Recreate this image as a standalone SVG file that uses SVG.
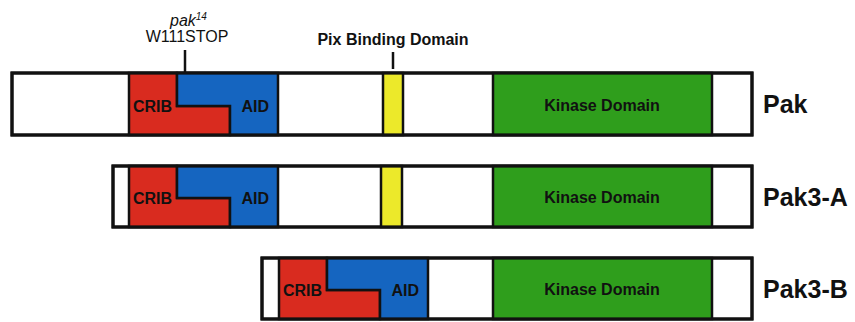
<svg xmlns="http://www.w3.org/2000/svg" width="855" height="322" viewBox="0 0 855 322">
<style>
.bar{fill:#fff;stroke:#111;stroke-width:3}
.seg{stroke:#111;stroke-width:2.5}
.red{fill:#d92b1f}
.blue{fill:#1565c0}
.yel{fill:#ece92a}
.grn{fill:#2f9e1c}
.ln{fill:none;stroke:#111;stroke-width:2.5}
.dom{font-family:"Liberation Sans",Arial,sans-serif;font-weight:bold;font-size:16px;fill:#111}
.name{font-family:"Liberation Sans",Arial,sans-serif;font-weight:bold;font-size:25px;fill:#111}
.lab{font-family:"Liberation Sans",Arial,sans-serif;font-size:16px;fill:#111}
</style>
<rect width="855" height="322" fill="#fff"/>
<g id="annotations">
<text class="lab" x="170" y="26" font-style="italic">pak<tspan font-size="10" dy="-6">14</tspan></text>
<text class="lab" x="187" y="42" text-anchor="middle">W111STOP</text>
<text class="dom" x="393" y="45" text-anchor="middle">Pix Binding Domain</text>
</g>
<g id="connectors">
<line class="ln" x1="185" y1="50" x2="185" y2="73"/>
<line class="ln" x1="393" y1="52" x2="393" y2="69"/>
</g>
<g id="pak">
<rect class="bar" x="12" y="73" width="740" height="62"/>
<polygon class="red seg" points="129,73 177,73 177,106 230,106 230,135 129,135"/>
<polygon class="blue seg" points="177,73 278,73 278,135 230,135 230,106 177,106"/>
<rect class="yel seg" x="383" y="73" width="20" height="62"/>
<rect class="grn seg" x="493" y="73" width="219" height="62"/>
<rect x="12" y="73" width="740" height="62" fill="none" stroke="#111" stroke-width="3"/>
<text class="dom" x="133" y="112">CRIB</text>
<text class="dom" x="269" y="112" text-anchor="end">AID</text>
<text class="dom" x="602" y="111" text-anchor="middle">Kinase Domain</text>
<text class="name" x="763" y="113">Pak</text>
</g>
<g id="pak3a">
<rect class="bar" x="113" y="166" width="639" height="61"/>
<polygon class="red seg" points="129,166 177,166 177,198 230,198 230,227 129,227"/>
<polygon class="blue seg" points="177,166 278,166 278,227 230,227 230,198 177,198"/>
<rect class="yel seg" x="381" y="166" width="21" height="61"/>
<rect class="grn seg" x="493" y="166" width="219" height="61"/>
<rect x="113" y="166" width="639" height="61" fill="none" stroke="#111" stroke-width="3"/>
<text class="dom" x="133" y="204">CRIB</text>
<text class="dom" x="269" y="204" text-anchor="end">AID</text>
<text class="dom" x="602" y="203" text-anchor="middle">Kinase Domain</text>
<text class="name" x="763" y="206">Pak3-A</text>
</g>
<g id="pak3b">
<rect class="bar" x="262" y="258" width="490" height="61"/>
<polygon class="red seg" points="279,258 327,258 327,290 380,290 380,319 279,319"/>
<polygon class="blue seg" points="327,258 428,258 428,319 380,319 380,290 327,290"/>
<rect class="grn seg" x="493" y="258" width="219" height="61"/>
<rect x="262" y="258" width="490" height="61" fill="none" stroke="#111" stroke-width="3"/>
<text class="dom" x="283" y="296">CRIB</text>
<text class="dom" x="419" y="296" text-anchor="end">AID</text>
<text class="dom" x="602" y="295" text-anchor="middle">Kinase Domain</text>
<text class="name" x="763" y="298">Pak3-B</text>
</g>
</svg>
